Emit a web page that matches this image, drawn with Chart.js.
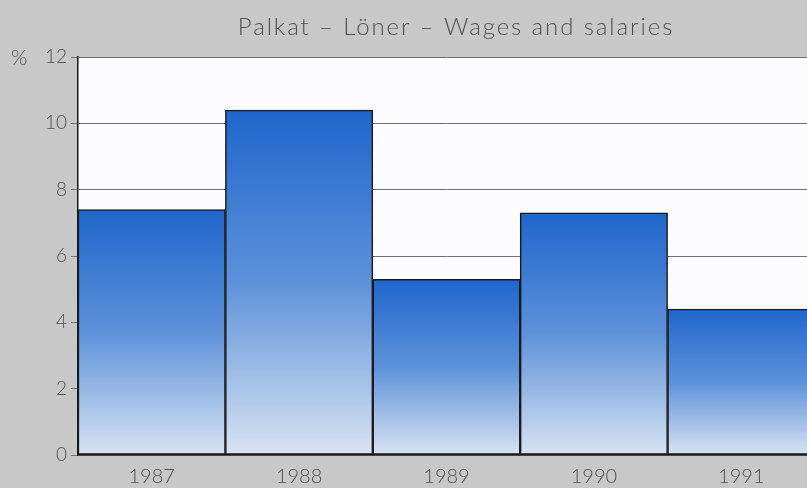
<!DOCTYPE html>
<html>
<head>
<meta charset="utf-8">
<script src="https://cdn.jsdelivr.net/npm/chart.js@4.4.0/dist/chart.umd.min.js"></script>
<style>
    html, body { margin: 0; padding: 0; overflow: hidden; background: #c8c8c8; }
    #wrap { position: absolute; left: 0; top: 0; width: 840px; height: 488px; }
</style>
</head>
<body>
<div id="wrap"><canvas id="wagesChart"></canvas></div>
<script>
// Palkat - Löner - Wages and salaries, muutos % (luettu kuvasta)
const years = ['1987', '1988', '1989', '1990', '1991'];
const wageChange = [7.4, 10.4, 5.3, 7.3, 4.4];
const yTicks = [0, 2, 4, 6, 8, 10, 12];

const titleText = 'Palkat \u2013 Löner \u2013 Wages and salaries';
const fontFamily = "'Lato', 'Open Sans', sans-serif";

// palkin liukuväri ylhäältä alas, jokaiselle palkille erikseen
function barGradient(context) {
    const chart = context.chart;
    if (!chart.chartArea) return '#5a90d8';
    const yScale = chart.scales.y;
    const top = yScale.getPixelForValue(context.raw);
    const bottom = yScale.getPixelForValue(0);
    const g = chart.ctx.createLinearGradient(0, top, 0, bottom);
    g.addColorStop(0, '#1f66cc');
    g.addColorStop(0.5, '#5d92da');
    g.addColorStop(1, '#d8e3f2');
    return g;
}

// valkoinen piirtoalue
const plotBackground = {
    id: 'plotBackground',
    beforeDraw(chart) {
        const { ctx, chartArea } = chart;
        ctx.save();
        ctx.fillStyle = '#fcfcfe';
        ctx.fillRect(chartArea.left, chartArea.top, chartArea.width, chartArea.height);
        ctx.restore();
    }
};

const titleAndUnit = {
    id: 'titleAndUnit',
    afterDraw(chart) {
        const ctx = chart.ctx;
        ctx.save();
        ctx.fillStyle = '#505050';
        ctx.font = `300 24px ${fontFamily}`;
        ctx.letterSpacing = '1.9px';
        ctx.textAlign = 'center';
        ctx.textBaseline = 'middle';
        ctx.fillText(titleText, 456, 27);
        ctx.letterSpacing = '0px';
        ctx.font = `300 21px ${fontFamily}`;
        ctx.textAlign = 'left';
        ctx.fillText('%', 11, chart.chartArea.top + 1);
        ctx.restore();
    }
};

document.addEventListener('DOMContentLoaded', () => {
    const ctx = document.getElementById('wagesChart').getContext('2d');
    new Chart(ctx, {
        type: 'bar',
        data: {
            labels: years,
            datasets: [{
                data: wageChange,
                backgroundColor: barGradient,
                borderColor: '#1a1a1a',
                borderWidth: 1.5,
                borderSkipped: false,
                categoryPercentage: 1,
                barPercentage: 1
            }]
        },
        options: {
            responsive: true,
            maintainAspectRatio: false,
            animation: false,
            layout: { padding: { top: 57, left: 0, right: 25, bottom: 0 } },
            plugins: {
                legend: { display: false },
                title: { display: false },
                tooltip: { enabled: false }
            },
            scales: {
                x: {
                    grid: { display: false },
                    border: { color: '#1a1a1a', width: 1.5 },
                    ticks: {
                        color: '#505050',
                        font: { family: fontFamily, size: 20, weight: '300' },
                        padding: 2
                    },
                    afterFit(scale) { scale.height = 33; }
                },
                y: {
                    min: 0,
                    max: 12,
                    afterBuildTicks(scale) { scale.ticks = yTicks.map(v => ({ value: v })); },
                    grid: {
                        color: '#707070',
                        lineWidth: 1,
                        tickLength: 7,
                        tickColor: '#707070'
                    },
                    border: { color: '#1a1a1a', width: 1.5 },
                    ticks: {
                        color: '#505050',
                        font: { family: fontFamily, size: 19, weight: '300' },
                        padding: 4
                    },
                    afterFit(scale) { scale.width = 78; }
                }
            }
        },
        plugins: [plotBackground, titleAndUnit]
    });
});
</script>
</body>
</html>
